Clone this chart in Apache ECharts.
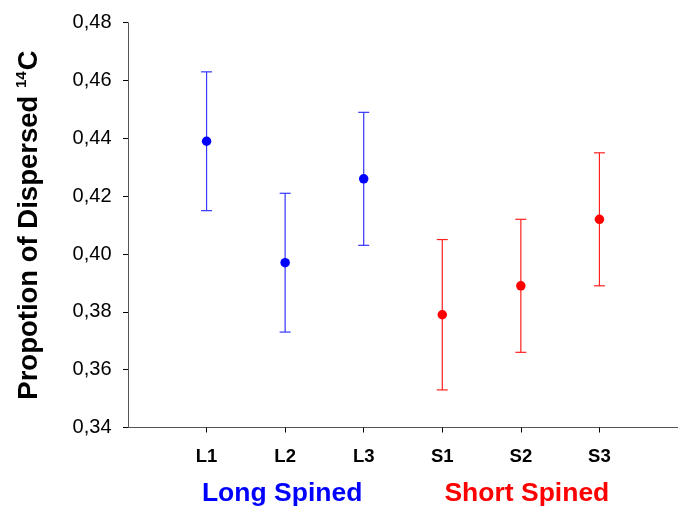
<!DOCTYPE html>
<html><head><meta charset="utf-8">
<script src="https://cdn.jsdelivr.net/npm/echarts@6/dist/echarts.min.js"></script>
<style>html,body{margin:0;padding:0;background:#fff}#c{width:678px;height:509px}</style>
</head><body><div id="c"></div>
<script>
const categories = ['L1','L2','L3','S1','S2','S3'];
const means = [0.439, 0.397, 0.426, 0.379, 0.389, 0.412];
const upper = [0.463, 0.421, 0.449, 0.405, 0.412, 0.435];
const lower = [0.415, 0.373, 0.403, 0.353, 0.366, 0.389];
const groups = ['Long','Long','Long','Short','Short','Short'];
const groupLabels = ['Long Spined','Short Spined'];
const yTicks = [0.34,0.36,0.38,0.40,0.42,0.44,0.46,0.48];

const colorOf = {Long:'#0000ff', Short:'#ff0000'};
const barColorOf = {Long:'#3535ff', Short:'#ff2020'};
const font = 'Liberation Sans, Arial, sans-serif';

const chart = echarts.init(document.getElementById('c'));
const xs = categories.map((c,i)=>i+1);

chart.setOption({
  animation:false,
  grid:{left:128, top:22.7, right:-5, bottom:81.5, containLabel:false},
  xAxis:{type:'value', min:0, max:7, interval:1,
    axisLine:{lineStyle:{color:'#555', width:1}},
    axisTick:{show:true, length:5, lineStyle:{color:'#000'}, customValues:xs},
    axisLabel:{customValues:xs, formatter:v=>categories[v-1]||'', margin:20,
      fontFamily:font, fontWeight:'bold', fontSize:18.5, color:'#000'},
    splitLine:{show:false}},
  yAxis:{type:'value', min:0.34, max:0.48, interval:0.02,
    axisLine:{show:true, lineStyle:{color:'#555', width:1}},
    axisTick:{show:true, length:5, lineStyle:{color:'#000'}},
    axisLabel:{formatter:v=>v.toFixed(2).replace('.',','), margin:16.5,
      fontFamily:font, fontSize:20, color:'#000'},
    splitLine:{show:false}},
  series:[
    {type:'custom',
     data: xs.map((x,i)=>[x, lower[i], upper[i], i]),
     renderItem:(params, api)=>{
       const i = api.value(3);
       const lo = api.coord([api.value(0), api.value(1)]);
       const hi = api.coord([api.value(0), api.value(2)]);
       const c = barColorOf[groups[i]];
       const hw = 5.5;
       const st = {stroke:c, lineWidth:1.2};
       return {type:'group', children:[
         {type:'line', shape:{x1:lo[0], y1:lo[1], x2:hi[0], y2:hi[1]}, style:st},
         {type:'line', shape:{x1:lo[0]-hw, y1:lo[1], x2:lo[0]+hw, y2:lo[1]}, style:st},
         {type:'line', shape:{x1:hi[0]-hw, y1:hi[1], x2:hi[0]+hw, y2:hi[1]}, style:st}
       ]};
     }, z:2},
    {type:'scatter', symbol:'circle', symbolSize:9.5, z:3,
     data: xs.map((x,i)=>({value:[x, means[i]], itemStyle:{color:colorOf[groups[i]], opacity:1}}))}
  ]
});

const gx1 = chart.convertToPixel({xAxisIndex:0}, 2);
const gx2 = chart.convertToPixel({xAxisIndex:0}, 5);
const midY = (chart.convertToPixel({yAxisIndex:0}, 0.48) + chart.convertToPixel({yAxisIndex:0}, 0.34))/2;
chart.setOption({
  graphic:[
    {type:'text', x:gx1-3, y:494, style:{text:groupLabels[0], fill:'#0000ff', font:'bold 26.5px '+font, align:'center', verticalAlign:'middle'}},
    {type:'text', x:gx2+6, y:494, style:{text:groupLabels[1], fill:'#ff0000', font:'bold 26.5px '+font, align:'center', verticalAlign:'middle'}},
    {type:'text', x:29, y:midY, rotation:Math.PI/2,
     style:{text:'{a|Propotion of Dispersed }{s|14}{a|C}', align:'center', verticalAlign:'middle',
       rich:{a:{fontFamily:font, fontWeight:'bold', fontSize:27.5, fill:'#000', lineHeight:32},
             s:{fontFamily:font, fontWeight:'bold', fontSize:15, fill:'#000', padding:[0,1,14,0], lineHeight:32}}}}
  ]
});
</script></body></html>
